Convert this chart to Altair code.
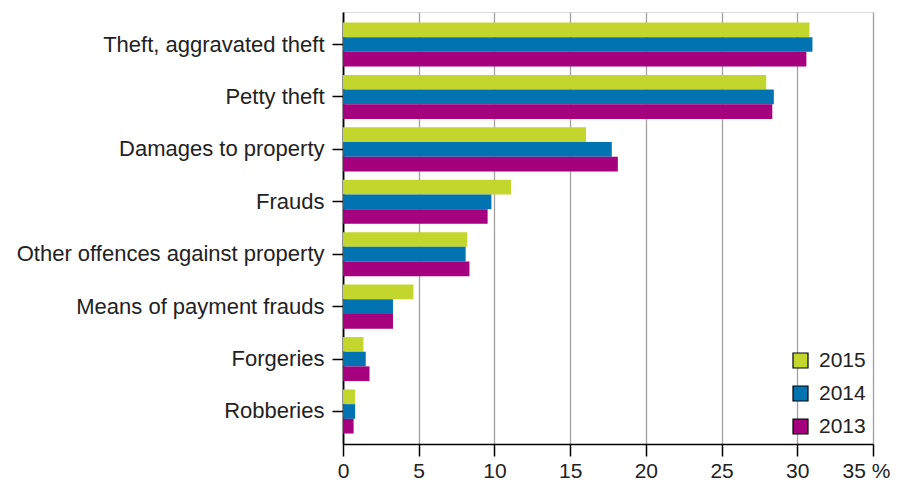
import altair as alt
import pandas as pd

categories = [
    "Theft, aggravated theft",
    "Petty theft",
    "Damages to property",
    "Frauds",
    "Other offences against property",
    "Means of payment frauds",
    "Forgeries",
    "Robberies",
]
years = ["2015", "2014", "2013"]
v2015 = [30.8, 27.95, 16.05, 11.1, 8.2, 4.65, 1.35, 0.8]
v2014 = [31.0, 28.45, 17.75, 9.8, 8.1, 3.3, 1.5, 0.8]
v2013 = [30.6, 28.35, 18.15, 9.55, 8.35, 3.3, 1.75, 0.7]
colors = ["#C3D62E", "#0073B0", "#A5007D"]
x_ticks = [0, 5, 10, 15, 20, 25, 30, 35]

rows = []
for yr, vals in zip(years, [v2015, v2014, v2013]):
    for c, v in zip(categories, vals):
        rows.append({"category": c, "year": yr, "value": v})
df = pd.DataFrame(rows)

FONT = "Liberation Sans"

chart = (
    alt.Chart(df)
    .mark_bar()
    .encode(
        x=alt.X(
            "value:Q",
            scale=alt.Scale(domain=[0, 35], nice=False, zero=True),
            axis=alt.Axis(
                values=x_ticks,
                labelExpr="datum.value == 35 ? '35 %' : datum.label",
                title=None,
                grid=True,
                gridColor="#a0a0a0",
                gridWidth=1.3,
                tickSize=12,
                tickColor="#000000",
                tickWidth=1.5,
                domainColor="#000000",
                domainWidth=1.5,
                labelFontSize=21,
                labelFont=FONT,
                labelColor="#222222",
                labelPadding=4,
                labelFlush=False,
                labelOverlap=False,
                labelOffset={"condition": {"test": "datum.value == 35", "value": -7}, "value": 0},
            ),
        ),
        y=alt.Y(
            "category:N",
            sort=categories,
            scale=alt.Scale(paddingInner=0.16, paddingOuter=0.2),
            axis=alt.Axis(
                title=None,
                grid=False,
                tickSize=11,
                tickColor="#000000",
                tickWidth=1.5,
                domainColor="#000000",
                domainWidth=1.8,
                labelFontSize=22,
                labelFont=FONT,
                labelColor="#222222",
                labelPadding=8,
                labelLimit=0,
            ),
        ),
        yOffset=alt.YOffset("year:N", sort=years),
        color=alt.Color(
            "year:N",
            sort=years,
            scale=alt.Scale(domain=years, range=colors),
            legend=alt.Legend(
                orient="none",
                legendX=447,
                legendY=338,
                title=None,
                symbolType="square",
                symbolSize=225,
                symbolStrokeColor="#000000",
                symbolStrokeWidth=1.2,
                symbolOpacity=1,
                labelFontSize=21,
                labelFont=FONT,
                labelColor="#222222",
                rowPadding=11,
                labelOffset=8,
                padding=0,
            ),
        ),
    )
    .properties(
        width=530,
        height=432,
        autosize=alt.AutoSizeParams(type="none"),
        padding={"left": 335, "top": 4, "right": 17, "bottom": 40},
    )
    .configure_view(stroke=None)
    .configure(background="white")
)

chart.save("out.html", embed_options={"renderer": "svg", "actions": False})
